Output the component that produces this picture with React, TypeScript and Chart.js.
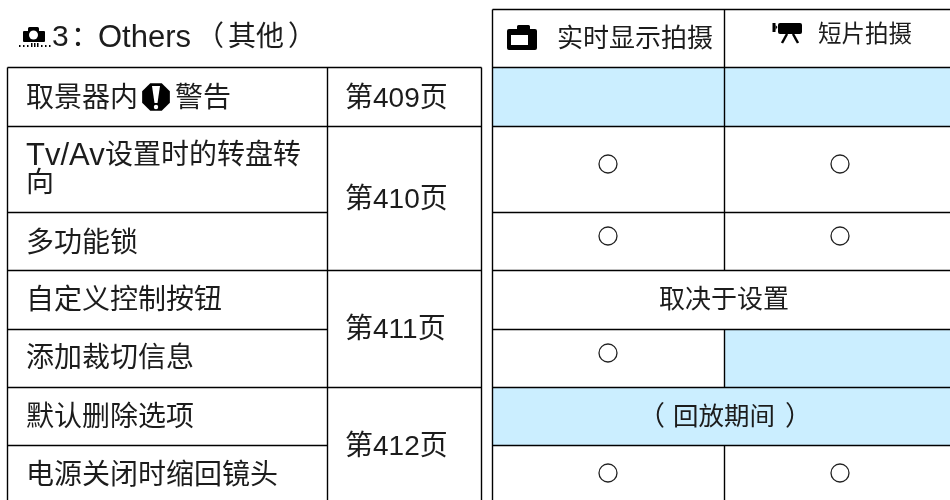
import React, { useEffect, useRef } from "react";
import { Chart, registerables } from "chart.js";

Chart.register(...registerables);

// ---- content ----
const titleParts = ["3", "：", "Others", "（", "其他", "）"];
const columnHeaders = ["实时显示拍摄", "短片拍摄"];
const settingNames = ["取景器内", "Tv/Av设置时的转盘转", "多功能锁", "自定义控制按钮", "添加裁切信息", "默认删除选项", "电源关闭时缩回镜头"];
const pageLabels = ["第409页", "第410页", "第411页", "第412页"];
const liveViewSupport = [0, 1, 1, -1, 1, -2, 1];
const movieSupport = [0, 1, 1, -1, 0, -2, 1];

// ---- layout ----
const rowEdges = [67.5, 126.5, 212.5, 270.5, 329.5, 387.5, 445.5, 500];
const rowCentres = [96.5, 164, 236, 298, 353, 415, 473];
const textCentres = [96, 153, 241, 298, 356, 415, 473];
const X = { l0: 7.5, l1: 327.5, l2: 481.5, r0: 492.5, r1: 724.5, r2: 950, c1: 608, c2: 840 };
const pageCentres = [96, 197, 327, 444];
const INK = "#000";
const TEXT = "#1c1c1c";
const BLUE = "#cbeeff";
const F = (s: number) => `${s}px "Liberation Sans", "Noto Sans CJK SC", sans-serif`;

const tablePlugin = {
  id: "table",
  beforeDatasetsDraw(chart: any) {
    const { ctx, scales } = chart;
    const px = (v: number) => scales.x.getPixelForValue(v);
    const py = (v: number) => scales.y.getPixelForValue(v);
    const rect = (x0: number, y0: number, x1: number, y1: number, c: string) => {
      ctx.fillStyle = c;
      ctx.fillRect(px(x0), py(y0), px(x1) - px(x0), py(y1) - py(y0));
    };
    const line = (x0: number, y0: number, x1: number, y1: number) => {
      ctx.beginPath();
      ctx.moveTo(px(x0), py(y0));
      ctx.lineTo(px(x1), py(y1));
      ctx.stroke();
    };
    const text = (s: string, x: number, y: number, size: number, align: CanvasTextAlign = "left") => {
      ctx.font = F(size);
      ctx.fillStyle = TEXT;
      ctx.textAlign = align;
      ctx.textBaseline = "middle";
      ctx.fillText(s, px(x), py(y + 3));
    };
    ctx.save();

    // coloured cells
    settingNames.forEach((_, i) => {
      const y0 = rowEdges[i], y1 = rowEdges[i + 1];
      if (liveViewSupport[i] === 0) rect(X.r0, y0, X.r1, y1, BLUE);
      if (movieSupport[i] === 0) rect(X.r1, y0, X.r2, y1, BLUE);
      if (liveViewSupport[i] === -2) rect(X.r0, y0, X.r2, y1, BLUE);
    });

    // rules
    ctx.strokeStyle = INK;
    ctx.lineWidth = 1.4;
    [X.l0, X.l1, X.l2].forEach((x) => line(x, rowEdges[0], x, 500));
    line(X.r0, 9.5, X.r0, 500);
    line(X.r1, 9.5, X.r1, rowEdges[3]);
    line(X.r1, rowEdges[4], X.r1, rowEdges[5]);
    line(X.r1, rowEdges[6], X.r1, 500);
    line(X.r0, 9.5, X.r2, 9.5);
    rowEdges.slice(0, 7).forEach((y, i) => {
      line(X.r0, y, X.r2, y);
      const full = i === 0 || i === 1 || i === 3 || i === 5;
      line(X.l0, y, full ? X.l2 : X.l1, y);
    });

    // title
    text(titleParts[0], 52, 35, 30);
    text(titleParts[1], 71, 35, 28);
    text(titleParts[2], 98, 35, 31);
    text(titleParts[3], 196, 35, 28);
    text(titleParts[4], 228, 35, 28);
    text(titleParts[5], 288, 35, 28);

    // headers
    text(columnHeaders[0], 557, 37, 26);
    text(columnHeaders[1], 818, 33, 23.5);

    // first column
    settingNames.forEach((s, i) => {
      if (i === 0) {
        text(s, 26, textCentres[i], 28);
        text("警告", 175, textCentres[i], 28);
      } else if (i === 1) {
        text(s.slice(0, 5), 26, textCentres[i], 31);
        text(s.slice(5), 105, textCentres[i], 28);
        text("向", 26, 181, 28);
      } else {
        text(s, 26, textCentres[i], 28);
      }
    });

    // page column
    pageLabels.forEach((s, i) => text(s, 345, pageCentres[i], 28));

    // merged cells
    text("取决于设置", 724, rowCentres[3], 26, "center");
    text("（", 638, rowCentres[5], 27);
    text("回放期间", 673, rowCentres[5], 25.5);
    text("）", 785, rowCentres[5], 27);

    // icons
    ctx.fillStyle = "#000";
    // shooting menu icon
    ctx.beginPath();
    ctx.roundRect(px(23), py(31), 22, 11, 1);
    ctx.roundRect(px(28), py(27), 11, 6, 1.5);
    ctx.fill();
    ctx.fillStyle = "#fff";
    ctx.beginPath();
    ctx.arc(px(33.5), py(35), 4.5, 0, Math.PI * 2);
    ctx.fill();
    ctx.fillStyle = "#000";
    [19, 23, 27, 41, 45, 49].forEach((x) => ctx.fillRect(px(x), py(45), 1.5, 2));
    [31, 34, 37].forEach((x) => ctx.fillRect(px(x), py(43), 1.5, 4));

    // live view camera
    ctx.beginPath();
    ctx.roundRect(px(507), py(29), 30, 21, 2);
    ctx.roundRect(px(517), py(25), 13, 7, 1.5);
    ctx.fill();
    ctx.fillStyle = "#fff";
    ctx.fillRect(px(511), py(35), 17, 10);
    ctx.fillStyle = "#000";

    // movie camera
    ctx.beginPath();
    ctx.roundRect(px(778), py(23), 24, 11, 2);
    ctx.fill();
    ctx.fillRect(px(772.5), py(23), 3, 9);
    ctx.beginPath();
    ctx.moveTo(px(775.5), py(25));
    ctx.lineTo(px(777.5), py(27));
    ctx.lineTo(px(775.5), py(30));
    ctx.fill();
    ctx.lineWidth = 2.5;
    ctx.strokeStyle = "#000";
    line(787, 34, 782, 43);
    line(793, 34, 798, 43);

    // warning octagon
    const cx = 156, cy = 97, r = 15;
    ctx.beginPath();
    for (let k = 0; k < 8; k++) {
      const a = Math.PI / 8 + (k * Math.PI) / 4;
      ctx.lineTo(px(cx + r * Math.cos(a)), py(cy + r * Math.sin(a)));
    }
    ctx.closePath();
    ctx.fill();
    ctx.fillStyle = "#fff";
    ctx.beginPath();
    ctx.moveTo(px(cx - 4), py(cy - 11));
    ctx.lineTo(px(cx + 4), py(cy - 11));
    ctx.lineTo(px(cx + 1.5), py(cy + 6));
    ctx.lineTo(px(cx - 1.5), py(cy + 6));
    ctx.closePath();
    ctx.fill();
    ctx.beginPath();
    ctx.arc(px(cx), py(cy + 10), 2.2, 0, Math.PI * 2);
    ctx.fill();

    ctx.restore();
  },
};

const points = (support: number[], x: number) =>
  support.map((v, i) => (v === 1 ? { x, y: rowCentres[i] } : null)).filter(Boolean);

export default function App() {
  const ref = useRef<HTMLCanvasElement>(null);
  useEffect(() => {
    const chart = new Chart(ref.current as HTMLCanvasElement, {
      type: "scatter",
      data: {
        datasets: [
          { label: columnHeaders[0], data: points(liveViewSupport, X.c1) as any },
          { label: columnHeaders[1], data: points(movieSupport, X.c2) as any },
        ].map((d) => ({
          ...d,
          pointStyle: "circle",
          pointRadius: 9,
          pointBorderWidth: 1.3,
          pointBorderColor: "#222",
          pointBackgroundColor: "rgba(0,0,0,0)",
        })),
      },
      options: {
        responsive: false,
        animation: false,
        layout: { padding: 0, autoPadding: false },
        events: [],
        plugins: { legend: { display: false }, tooltip: { enabled: false }, title: { display: false } },
        scales: {
          x: { type: "linear", min: 0, max: 950, display: false },
          y: { type: "linear", min: 0, max: 500, reverse: true, display: false },
        },
      },
      plugins: [tablePlugin],
    });
    return () => chart.destroy();
  }, []);
  return (
    <div style={{ position: "absolute", left: 0, top: 0, width: 950, height: 500, background: "#fff" }}>
      <canvas ref={ref} width={950} height={500} style={{ display: "block" }} />
    </div>
  );
}
